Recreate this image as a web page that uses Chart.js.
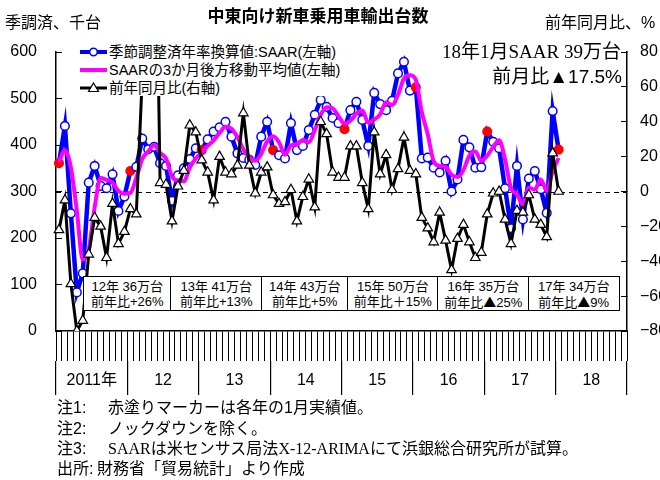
<!DOCTYPE html>
<html><head><meta charset="utf-8">
<script src="https://cdn.jsdelivr.net/npm/chart.js@4.4.1/dist/chart.umd.min.js"></script>
<style>
body{margin:0;background:#fff;}
#wrap{position:relative;width:660px;height:480px;overflow:hidden;font-family:"Liberation Sans","Noto Sans CJK JP",sans-serif;color:#000;background:#fff;}
canvas{position:absolute;left:0;top:0;}
.t{position:absolute;white-space:nowrap;line-height:1;}
.serif{font-family:"Liberation Serif","Noto Sans CJK JP",serif;}
.cjk{font-family:"Noto Sans CJK JP",sans-serif;}
#legend{position:absolute;left:62px;top:42px;width:296px;height:54px;background:#fff;}
.lrow{position:absolute;left:0;height:18px;width:296px;}
.sym{position:absolute;left:18px;top:0;width:27px;height:18px;}
.ltxt{position:absolute;left:47px;top:1px;font-size:14.5px;line-height:16px;white-space:nowrap;}
.box{position:absolute;top:276px;height:35px;border:1.5px solid #000;background:#fff;box-sizing:border-box;font-size:13px;text-align:center;line-height:15px;padding-top:2px;}
.note{position:absolute;left:57px;font-size:16px;line-height:1;white-space:nowrap;}
.note .lab{display:inline-block;width:51px;}
</style></head><body>
<div id="wrap">
<canvas id="c" width="660" height="480"></canvas>
<div class="t" id="title" style="left:318px;top:8px;font-size:17px;font-weight:bold;transform:translateX(-50%);"></div>
<div class="t" id="ylab" style="left:5px;top:15px;font-size:16px;"></div>
<div class="t" id="y1lab" style="left:545px;top:15px;font-size:16px;"></div>
<div id="legend"></div>
<div class="t" style="right:39px;top:42px;font-size:19px;"><span class="serif">18</span>年<span class="serif">1</span>月<span class="serif">SAAR 39</span>万台</div>
<div class="t" style="right:38px;top:67px;font-size:19px;">前月比▲17.5%</div>
<div id="boxes"></div>
<div id="notes"></div>
</div>
<script>
// ---- data ----
const years = [2011, 2012, 2013, 2014, 2015, 2016, 2017, 2018];
const yearLabels = ['2011年', '12', '13', '14', '15', '16', '17', '18'];
const seriesNames = ['季節調整済年率換算値:SAAR(左軸)', 'SAARの3か月後方移動平均値(左軸)', '前年同月比(右軸)'];
// SAAR, thousand units (Jan 2011 - Jan 2018)
const saar = [
  361, 441, 253, 83, 124, 319, 355, 312, 307, 337, 258, 289,
  344, 353, 414, 391, 396, 361, 355, 280, 335, 350, 370, 393,
  389, 412, 429, 438, 450, 418, 382, 372, 368, 357, 418, 450,
  389, 378, 371, 447, 389, 398, 432, 465, 497, 482, 458, 447,
  434, 475, 493, 454, 398, 512, 488, 475, 495, 554, 579, 517,
  524, 371, 373, 351, 341, 366, 300, 326, 411, 395, 351, 352,
  429, 407, 393, 307, 221, 355, 240, 328, 344, 305, 254, 473,
  390];
// 3-month trailing moving average of SAAR
const saarMA3 = [
  364, 389, 352, 259, 153, 175, 266, 329, 325, 319, 301, 295,
  297, 329, 370, 386, 400, 383, 371, 332, 323, 322, 352, 371,
  384, 398, 410, 426, 439, 435, 417, 391, 374, 366, 381, 408,
  419, 406, 379, 399, 402, 411, 406, 432, 465, 481, 479, 462,
  446, 452, 467, 474, 448, 455, 466, 492, 486, 508, 543, 550,
  540, 471, 423, 365, 355, 353, 336, 331, 346, 377, 386, 366,
  377, 396, 410, 369, 307, 294, 272, 308, 304, 326, 301, 344,
  372];
// year-on-year change, %
const yoy = [
  -22, -5, -53, -80, -74, -36, -15, -20, -38, -7, -30, -23,
  -10, -13, 65, 360, 220, 5, 4, -17, 3, 12, 38, 34,
  18, 11, -5, 20, 11, 10, 15, 45, 15, -1, 11, 14,
  -2, -7, -6, 1, -17, -3, 7, -9, 40, 33, 11, 8,
  8, 26, 26, 5, -10, 34, 10, 21, 1, 13, 31, 12,
  10, -15, -21, -29, -12, -28, -45, -27, -19, -29, -38, -35,
  -13, -1, 0, -16, -30, -11, -12, -2, -16, -19, -26, 22,
  0];
const boxLine1 = ['12年 36万台', '13年 41万台', '14年 43万台', '15年 50万台', '16年 35万台', '17年 34万台'];
const boxLine2 = ['前年比+26%', '前年比+13%', '前年比+5%', '前年比＋15%', '前年比▲25%', '前年比▲9%'];
const notes = [
  ['注1:', '赤塗りマーカーは各年の1月実績値。'],
  ['注2:', 'ノックダウンを除く。'],
  ['注3:', '<span class="serif">SAAR</span>は米センサス局法<span class="serif">X-12-ARIMA</span>にて浜銀総合研究所が試算。'],
  ['出所:', '財務省「貿易統計」より作成']
];

// ---- texts ----
document.getElementById('title').textContent = '中東向け新車乗用車輸出台数';
document.getElementById('ylab').textContent = '季調済、千台';
document.getElementById('y1lab').textContent = '前年同月比、%';

const symSvg = [
  '<svg width="27" height="18"><line x1="0" y1="9" x2="27" y2="9" stroke="#0000ff" stroke-width="4"/><circle cx="13.5" cy="9" r="3.8" fill="#fff" stroke="#0000ff" stroke-width="1.5"/></svg>',
  '<svg width="27" height="18"><line x1="0" y1="9" x2="27" y2="9" stroke="#ff00ff" stroke-width="4"/></svg>',
  '<svg width="27" height="18"><line x1="0" y1="9" x2="27" y2="9" stroke="#000" stroke-width="3"/><polygon points="13.5,4 18.5,12.5 8.5,12.5" fill="#fff" stroke="#000" stroke-width="1.2"/></svg>'
];
const legendTops = [1, 19, 37];
document.getElementById('legend').innerHTML = seriesNames.map((n, i) =>
  `<div class="lrow" style="top:${legendTops[i]}px"><div class="sym">${symSvg[i]}</div><div class="ltxt">${n}</div></div>`).join('');

const tri = s => s.replace('▲', '<span class="cjk">▲</span>');
const boxLefts = [83, 170, 261, 347, 437, 528, 618];
document.getElementById('boxes').innerHTML = boxLine1.map((t, i) =>
  `<div class="box" style="left:${boxLefts[i]}px;width:${boxLefts[i+1]-boxLefts[i]+1.5}px">${t}<br>${tri(boxLine2[i])}</div>`).join('');

const noteTops = [400, 421, 441, 461];
document.getElementById('notes').innerHTML = notes.map((n, i) =>
  `<div class="note" style="top:${noteTops[i]}px"><span class="lab" style="${i===3?'width:40px':''}">${n[0]}</span>${n[1]}</div>`).join('');

// ---- chart ----
const monthLabels = [];
years.forEach(y => { for (let m = 1; m <= 12; m++) monthLabels.push(y + '/' + m); });

Chart.defaults.font.family = '"Liberation Sans","Noto Sans CJK JP",sans-serif';
Chart.defaults.color = '#000';

const zeroLine = {
  id: 'zeroLine',
  beforeDatasetsDraw(ch) {
    const { ctx, chartArea: a, scales: { y1 } } = ch;
    const yy = Math.round(y1.getPixelForValue(0)) + 0.5;
    ctx.save();
    ctx.strokeStyle = '#000';
    ctx.lineWidth = 1.2;
    ctx.setLineDash([5, 4]);
    ctx.beginPath(); ctx.moveTo(a.left, yy); ctx.lineTo(a.right, yy); ctx.stroke();
    ctx.restore();
  }
};

new Chart(document.getElementById('c'), {
  type: 'line',
  data: {
    labels: monthLabels,
    datasets: [
      {
        label: seriesNames[0], data: saar, yAxisID: 'y', xAxisID: 'x',
        borderColor: '#0000ff', borderWidth: 4.5, tension: 0,
        pointRadius: 4.3, pointBorderWidth: 1.5,
        pointBackgroundColor: c => c.dataIndex % 12 === 0 ? '#ff0000' : '#ffffff',
        pointBorderColor: c => c.dataIndex % 12 === 0 ? '#ff0000' : '#0000ff',
        order: 3
      },
      {
        label: seriesNames[1], data: saarMA3, yAxisID: 'y', xAxisID: 'x',
        borderColor: '#ff00ff', borderWidth: 4, pointRadius: 0,
        cubicInterpolationMode: 'monotone', order: 2
      },
      {
        label: seriesNames[2], data: yoy, yAxisID: 'y1', xAxisID: 'x',
        borderColor: '#000', borderWidth: 3, tension: 0,
        pointStyle: 'triangle', pointRadius: 5.5, pointBorderWidth: 1.2,
        pointBackgroundColor: '#fff', pointBorderColor: '#000',
        order: 1
      }
    ]
  },
  options: {
    responsive: false, animation: false,
    layout: { padding: { top: 52, bottom: 85, left: 0, right: 0 } },
    plugins: { legend: { display: false }, tooltip: { enabled: false } },
    scales: {
      x: {
        type: 'category', offset: true, weight: 0,
        grid: { offset: true, drawOnChartArea: false, tickLength: 30, color: '#000', lineWidth: 1 },
        border: { display: true, color: '#000', width: 1.5 },
        ticks: { display: false, autoSkip: false },
        afterFit(s) { s.height = 30; }
      },
      xYear: {
        type: 'category', labels: yearLabels, position: 'bottom', offset: true, weight: 1,
        grid: { offset: true, drawOnChartArea: false, tickLength: 34, color: '#000', lineWidth: 1.2 },
        border: { display: false },
        ticks: { padding: -24, font: { size: 16 }, color: '#000', autoSkip: false, maxRotation: 0 },
        afterFit(s) { s.height = 34; }
      },
      y: {
        position: 'left', min: 0, max: 600,
        ticks: { stepSize: 100, padding: 25, font: { size: 16 }, color: '#000' },
        grid: { drawOnChartArea: false, tickLength: -6, color: '#000', lineWidth: 1 },
        border: { color: '#000', width: 1.5 },
        afterFit(s) { s.width = 56; }
      },
      y1: {
        position: 'right', min: -80, max: 80,
        ticks: { stepSize: 20, padding: 19, font: { size: 16 }, color: '#000',
          callback: v => v < 0 ? '\u2212' + Math.abs(v) : String(v) },
        grid: { drawOnChartArea: false, tickLength: -6, color: '#000', lineWidth: 1 },
        border: { color: '#000', width: 1.5 },
        afterFit(s) { s.width = 33; }
      }
    }
  },
  plugins: [zeroLine]
});
</script>
</body></html>
